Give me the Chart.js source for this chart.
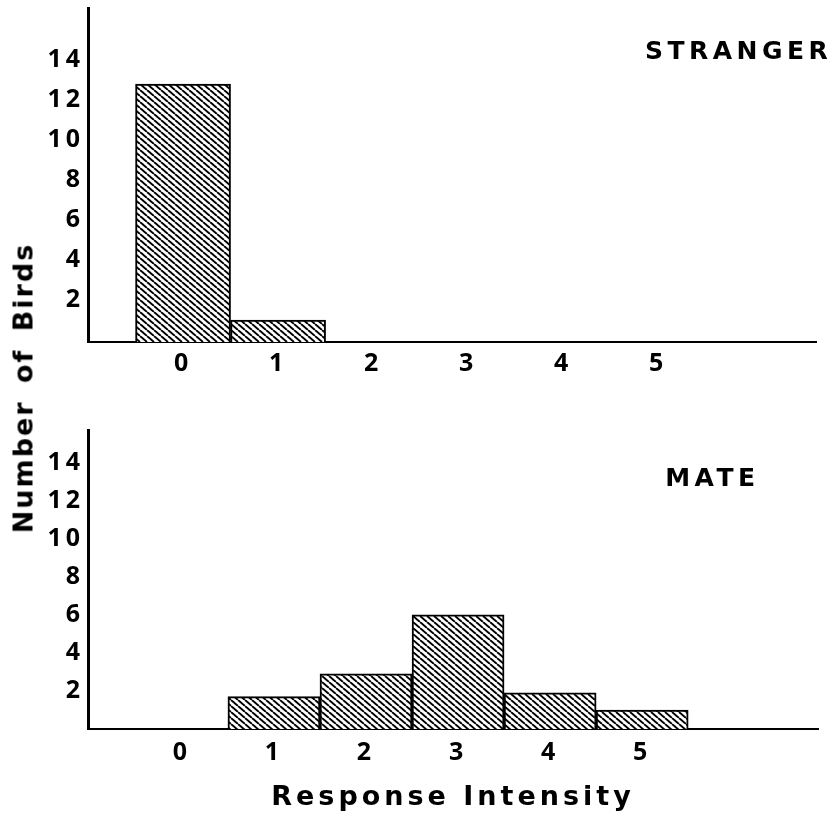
<!DOCTYPE html>
<html>
<head>
<meta charset="utf-8">
<script src="https://cdn.jsdelivr.net/npm/chart.js@4.4.1/dist/chart.umd.min.js"></script>
<style>
  body { margin: 0; background: #fff; }
  #page { position: relative; width: 831px; height: 818px; background: #fff; overflow: hidden; }
  #stranger { position: absolute; left: 0; top: 0; }
  #mate { position: absolute; left: 0; top: 400px; }
  #ytitle {
    position: absolute; left: 23px; top: 388px;
    transform: translate(-50%, -50%) rotate(-90deg);
    white-space: nowrap; font: bold 27px "DejaVu Sans", sans-serif;
    letter-spacing: 2px; word-spacing: 6px; color: #000;
  }
</style>
</head>
<body>
<div id="page">
  <canvas id="stranger" width="831" height="400"></canvas>
  <canvas id="mate" width="831" height="418"></canvas>
  <div id="ytitle">Number of Birds</div>
</div>
<script>
// response intensity categories and number of birds in each
const intensity = [0, 1, 2, 3, 4, 5];
const strangerBirds = [12.9, 1.1, 0, 0, 0, 0];
const mateBirds = [0, 1.7, 2.9, 6, 1.9, 1];
const yTickValues = [2, 4, 6, 8, 10, 12, 14];

function hatch() {
    const c = document.createElement('canvas');
    c.width = 7; c.height = 6;
    const g = c.getContext('2d');
    g.fillStyle = '#fff';
    g.fillRect(0, 0, 7, 6);
    g.strokeStyle = '#000';
    g.lineWidth = 1.9;
    for (let k = -1; k <= 1; k++) {
        g.beginPath();
        g.moveTo(k * 7, 0);
        g.lineTo(k * 7 + 7, 6);
        g.stroke();
    }
    return g.createPattern(c, 'repeat');
}

// wide letter spacing like the typed figure + the panel name inside the plot
const panelLabel = {
    id: 'panelLabel',
    beforeDraw(chart) {
        chart.ctx.letterSpacing = '4px';
    },
    afterDraw(chart, args, opts) {
        const ctx = chart.ctx;
        ctx.save();
        ctx.letterSpacing = '4.5px';
        ctx.font = 'bold 25px "DejaVu Sans"';
        ctx.fillStyle = '#000';
        ctx.textAlign = 'left';
        ctx.textBaseline = 'middle';
        ctx.fillText(opts.text, chart.scales.x.getPixelForValue(opts.x), chart.scales.y.getPixelForValue(opts.y));
        ctx.restore();
    }
};

const tickFont = {family: '"Open Sans"', weight: 'bold', size: 25};

function makeChart(id, values, cfg) {
    return new Chart(document.getElementById(id), {
        type: 'bar',
        data: {
            datasets: [{
                data: intensity.map((x, i) => ({x: x, y: values[i]})),
                backgroundColor: hatch(),
                borderColor: '#000',
                borderWidth: 2,
                barPercentage: 1,
                categoryPercentage: 1
            }]
        },
        options: {
            responsive: false,
            animation: false,
            layout: {padding: {top: cfg.padTop, right: cfg.padRight, left: 0, bottom: 0}},
            plugins: {
                legend: {display: false},
                tooltip: {enabled: false},
                panelLabel: cfg.label
            },
            scales: {
                x: {
                    type: 'linear',
                    offset: false,
                    min: cfg.xMin,
                    max: cfg.xMax,
                    grid: {display: false, drawTicks: false, offset: false},
                    border: {display: true, color: '#000', width: 2},
                    ticks: {padding: cfg.xPad, font: tickFont, color: '#000'},
                    afterBuildTicks: s => { s.ticks = intensity.map(v => ({value: v})); },
                    afterFit: s => { s.height = cfg.xHeight; s.paddingLeft = 0; s.paddingRight = 0; },
                    title: cfg.xTitle
                },
                y: {
                    min: 0,
                    max: cfg.yMax,
                    grid: {display: false, drawTicks: false},
                    border: {display: true, color: '#000', width: 3},
                    ticks: {padding: 4, labelOffset: cfg.yOffset, font: tickFont, color: '#000'},
                    afterBuildTicks: s => { s.ticks = yTickValues.map(v => ({value: v})); },
                    afterFit: s => { s.width = 88; s.paddingTop = 0; s.paddingBottom = 0; }
                }
            }
        },
        plugins: [panelLabel]
    });
}

makeChart('stranger', strangerBirds, {
    padTop: 8, padRight: 15, xMin: -1, xMax: 6.66, xPad: 7, xHeight: 58,
    yMax: 16.7, yOffset: -2,
    label: {text: 'STRANGER', x: 4.86, y: 14.5},
    xTitle: {display: false}
});

makeChart('mate', mateBirds, {
    padTop: 30, padRight: 13, xMin: -1.02, xMax: 6.91, xPad: 9, xHeight: 89,
    yMax: 15.7, yOffset: 0,
    label: {text: 'MATE', x: 5.25, y: 13.1},
    xTitle: {
        display: true, text: 'Response Intensity', color: '#000',
        font: {family: '"DejaVu Sans"', weight: 'bold', size: 27},
        padding: {top: 0, bottom: 4}
    }
});
</script>
</body>
</html>
